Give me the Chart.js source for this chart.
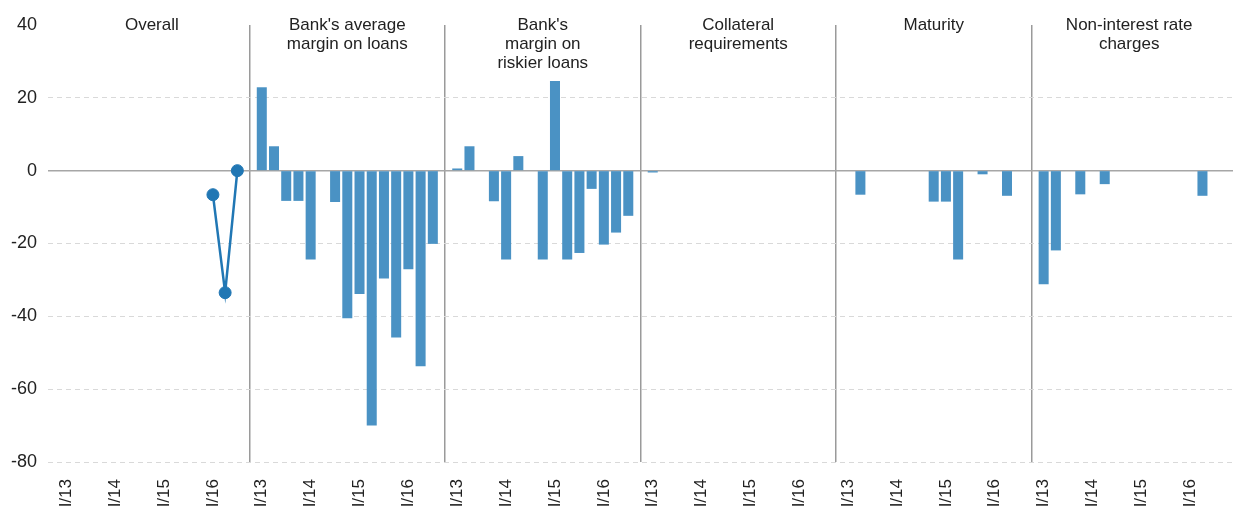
<!DOCTYPE html>
<html lang="en">
<head>
<meta charset="UTF-8"/>
<title>Credit standards by component</title>
<script src="https://cdn.jsdelivr.net/npm/chart.js@4"></script>
<style>
  html, body { margin: 0; padding: 0; background: #fff; overflow: hidden; }
  #wrap { position: relative; width: 1241px; height: 512px; }
</style>
<script>
  // quarters shown in every panel
  const quarters = ['I/13', 'II/13', 'III/13', 'IV/13', 'I/14', 'II/14', 'III/14', 'IV/14',
                    'I/15', 'II/15', 'III/15', 'IV/15', 'I/16', 'II/16', 'III/16'];
  const panelTitles = [
    ['Overall'],
    ["Bank's average", 'margin on loans'],
    ["Bank's", 'margin on', 'riskier loans'],
    ['Collateral', 'requirements'],
    ['Maturity'],
    ['Non-interest rate', 'charges']
  ];
  const yTicks = [40, 20, 0, -20, -40, -60, -80];

  // values per panel (net percentages), one per quarter
  const overall     = [null, null, null, null, null, null, null, null, null, null, null, null, -6.6, -33.5, 0];
  const avgMargin   = [22.9, 6.7, -8.3, -8.3, -24.4, null, -8.6, -40.5, -33.9, -70, -29.6, -45.8, -27.1, -53.7, -20.1];
  const riskyMargin = [0.6, 6.7, null, -8.4, -24.4, 4.0, null, -24.4, 24.6, -24.4, -22.6, -5.0, -20.3, -17.0, -12.4];
  const collateral  = [-0.5, null, null, null, null, null, null, null, null, null, null, null, null, null, null];
  const maturity    = [null, -6.6, null, null, null, null, null, -8.5, -8.5, -24.4, null, -1.0, null, -6.9, null];
  const nonInterest = [-31.2, -21.9, null, -6.5, null, -3.7, null, null, null, null, null, null, null, -6.9, null];

  const panels = [overall, avgMargin, riskyMargin, collateral, maturity, nonInterest];

  // one long category axis: a gap slot in front of each panel, plus one at the end
  let labels = [], barData = [], lineData = [], gapIdx = [], panelRange = [];
  panels.forEach((vals, p) => {
    if (p > 0) gapIdx.push(labels.length);
    labels.push(''); barData.push(null); lineData.push(null);
    const start = labels.length;
    quarters.forEach((q, i) => {
      labels.push(q);
      barData.push(p === 0 ? null : vals[i]);
      lineData.push(p === 0 ? vals[i] : null);
    });
    panelRange.push([start, labels.length - 1]);
  });
  labels.push(''); barData.push(null); lineData.push(null);

  const FONT = '"Liberation Sans", Arial, sans-serif';

  const panelTitlePlugin = {
    id: 'panelTitles',
    afterDraw(chart) {
      const ctx = chart.ctx, x = chart.scales.x, top = chart.chartArea.top;
      ctx.save();
      ctx.font = '17px ' + FONT;
      ctx.fillStyle = '#222';
      ctx.textAlign = 'center';
      ctx.textBaseline = 'middle';
      panelTitles.forEach((lines, p) => {
        const cx = (x.getPixelForValue(panelRange[p][0]) + x.getPixelForValue(panelRange[p][1])) / 2;
        lines.forEach((t, k) => ctx.fillText(t, cx, top + k * 19));
      });
      ctx.restore();
    }
  };

  window.addEventListener('load', function() {
    const ctx = document.getElementById('chart').getContext('2d');
    new Chart(ctx, {
      type: 'bar',
      data: {
        labels: labels,
        datasets: [
          {
            type: 'line',
            data: lineData,
            borderColor: '#2177b4',
            backgroundColor: '#2177b4',
            borderWidth: 2.5,
            pointRadius: 6,
            pointBorderWidth: 1,
            spanGaps: false,
            order: 0
          },
          {
            data: barData,
            backgroundColor: '#4a92c4',
            barPercentage: 0.82,
            categoryPercentage: 1,
            order: 1
          }
        ]
      },
      options: {
        responsive: true,
        maintainAspectRatio: false,
        animation: false,
        layout: { padding: { top: 25, right: 8, left: 0, bottom: 0 } },
        plugins: { legend: { display: false }, tooltip: { enabled: false } },
        scales: {
          x: {
            offset: true,
            grid: {
              offset: false,
              drawTicks: false,
              lineWidth: 1.5,
              color: c => gapIdx.includes(c.index) ? '#9a9a9a' : 'rgba(0,0,0,0)'
            },
            border: { display: false },
            ticks: {
              autoSkip: false,
              minRotation: 90,
              maxRotation: 90,
              padding: 17,
              color: '#222',
              font: { family: FONT, size: 17 },
              callback: (v, i) => labels[i].startsWith('I/') ? labels[i] : ''
            },
            afterFit: s => { s.height = 50; s.paddingLeft = 0; s.paddingRight = 0; }
          },
          y: {
            min: -80,
            max: 40,
            afterBuildTicks: s => { s.ticks = yTicks.map(v => ({ value: v })); },
            grid: {
              drawTicks: false,
              color: c => (c.tick.value === 0 || c.tick.value === 40) ? 'rgba(0,0,0,0)' : '#d9d9d9'
            },
            border: { display: false, dash: [5, 4] },
            ticks: { padding: 11, color: '#222', font: { family: FONT, size: 18 } },
            afterFit: s => { s.width = 48; s.paddingTop = 0; s.paddingBottom = 0; }
          },
          y0: {
            position: 'left',
            min: -80,
            max: 40,
            afterBuildTicks: s => { s.ticks = [{ value: 0 }]; },
            grid: { drawTicks: false, color: '#a6a6a6', lineWidth: 1.5 },
            border: { display: false },
            ticks: { display: false },
            afterFit: s => { s.width = 0; }
          }
        }
      },
      plugins: [panelTitlePlugin]
    });
  }, false);
</script>
</head>
<body>
  <div id="wrap"><canvas id="chart"></canvas></div>
</body>
</html>
